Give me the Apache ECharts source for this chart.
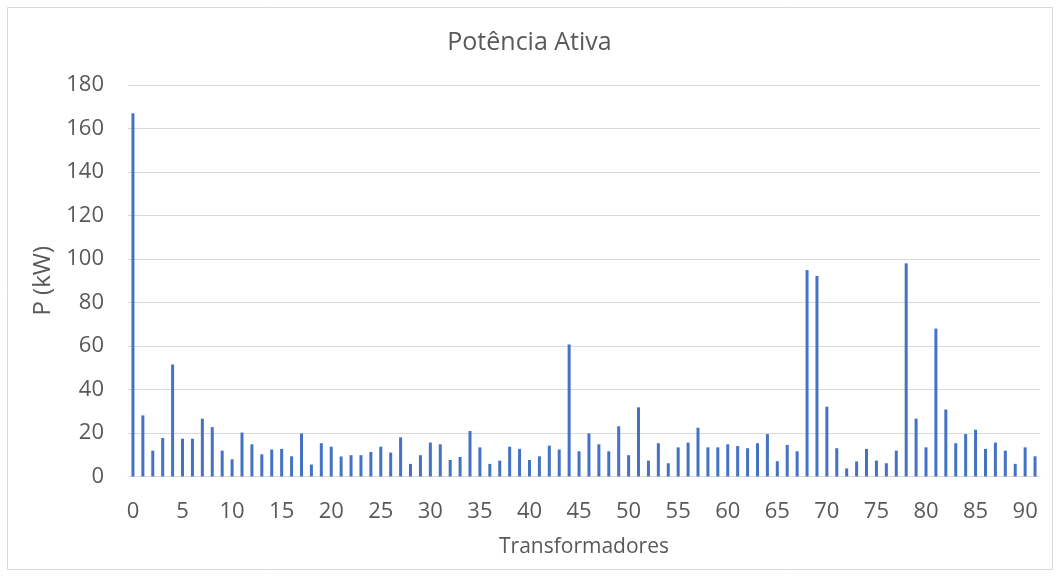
<!DOCTYPE html>
<html>
<head>
<meta charset="utf-8">
<script src="https://cdn.jsdelivr.net/npm/echarts@6/dist/echarts.min.js"></script>
<style>
    html, body { margin: 0; padding: 0; background: #fff; }
    #chart { width: 1059px; height: 576px; }
</style>
</head>
<body>
<div id="chart"></div>
<script>
// transformadores 0..91
const transformadores = [];
for (let i = 0; i < 92; i++) transformadores.push(String(i));

// potência ativa (kW)
const potencia = [
    167, 28.1, 11.9, 17.7, 51.5, 17.4, 17.4, 26.6, 22.7, 11.9,
    7.9, 20.2, 14.8, 10.2, 12.4, 12.7, 9.3, 19.8, 5.5, 15.3,
    13.7, 9.2, 9.8, 9.8, 11.3, 13.7, 11.0, 18.0, 5.8, 9.8,
    15.6, 14.8, 7.6, 9.0, 20.9, 13.4, 5.8, 7.3, 13.7, 12.7,
    7.6, 9.3, 14.2, 12.4, 60.7, 11.6, 19.8, 14.8, 11.6, 23.1,
    9.8, 31.8, 7.3, 15.3, 6.1, 13.4, 15.6, 22.4, 13.4, 13.4,
    14.8, 14.0, 13.0, 15.3, 19.5, 7.0, 14.5, 11.6, 94.9, 92.2,
    32.1, 13.0, 3.7, 6.9, 12.7, 7.3, 6.1, 11.9, 98.0, 26.6,
    13.4, 68.0, 30.8, 15.3, 19.5, 21.5, 12.7, 15.6, 11.9, 5.8,
    13.4, 9.3
];

const yTicks = { min: 0, max: 180, step: 20 };

let chart = echarts.init(document.getElementById('chart'));
const txt = '#595959';
const fontFam = '"Open Sans", "Noto Sans", sans-serif';

let option = {
    animation: false,
    graphic: [{
        type: 'rect',
        shape: { x: 7.5, y: 7.5, width: 1045, height: 562 },
        style: { fill: 'none', stroke: '#d9d9d9', lineWidth: 1 }
    }],
    title: {
        text: 'Potência Ativa',
        left: 'center',
        top: 25,
        textStyle: { color: txt, fontSize: 25, fontWeight: 'normal', fontFamily: fontFam }
    },
    grid: { left: 128, right: 19, top: 85, bottom: 99.5 },
    xAxis: {
        type: 'category',
        data: transformadores,
        name: 'Transformadores',
        nameLocation: 'middle',
        nameGap: 60,
        nameTextStyle: { color: txt, fontSize: 21, fontFamily: fontFam },
        axisTick: { show: false },
        axisLine: { lineStyle: { color: '#d9d9d9' } },
        axisLabel: { interval: 4, color: txt, fontSize: 22, fontFamily: fontFam, margin: 24 }
    },
    yAxis: {
        type: 'value',
        min: yTicks.min,
        max: yTicks.max,
        interval: yTicks.step,
        name: 'P (kW)',
        nameLocation: 'middle',
        nameGap: 65,
        nameTextStyle: { color: txt, fontSize: 24, fontFamily: fontFam },
        axisLabel: { color: txt, fontSize: 22, fontFamily: fontFam, margin: 24 },
        splitLine: { lineStyle: { color: '#d9d9d9' } }
    },
    series: [{
        type: 'bar',
        data: potencia,
        barWidth: 3,
        itemStyle: { color: '#4472c4' }
    }]
};
chart.setOption(option);
</script>
</body>
</html>
